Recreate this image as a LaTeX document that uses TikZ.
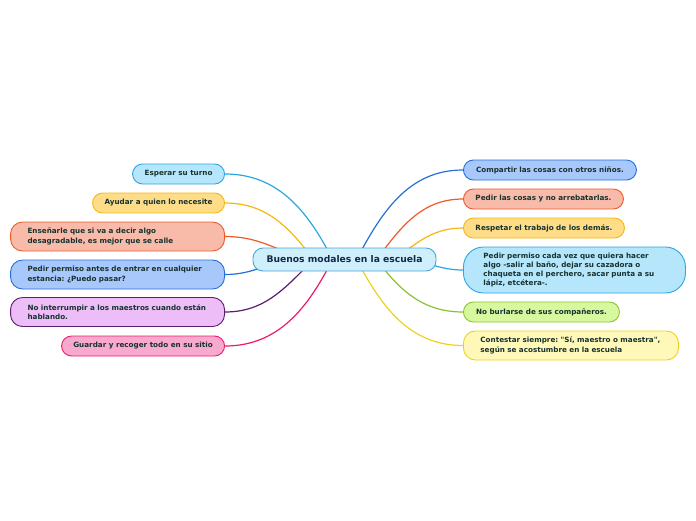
\documentclass[tikz,border=0pt]{standalone}
\usepackage{fontspec}
\setmainfont{DejaVu Sans}[Ligatures=TeXOff]
\usetikzlibrary{backgrounds,calc}
\frenchspacing
\definecolor{txt}{HTML}{17322E}
\definecolor{ctxt}{HTML}{14284A}
\definecolor{cyanF}{HTML}{B5E6FB}\definecolor{cyanD}{HTML}{2AA7E0}
\definecolor{yelF}{HTML}{FFDD88}\definecolor{yelD}{HTML}{F7B70F}
\definecolor{salF}{HTML}{F8BBA9}\definecolor{salD}{HTML}{F05A28}
\definecolor{bluF}{HTML}{A8C8FB}\definecolor{bluD}{HTML}{2470D8}
\definecolor{lavF}{HTML}{EDBDF8}\definecolor{lavD}{HTML}{5B1E6E}
\definecolor{pinF}{HTML}{F9A9CD}\definecolor{pinD}{HTML}{EC1A6C}
\definecolor{limF}{HTML}{D8F8A0}\definecolor{limD}{HTML}{8DC22F}
\definecolor{pylF}{HTML}{FFF8B8}\definecolor{pylD}{HTML}{EDD21C}
\definecolor{cenF}{HTML}{CFEFFC}\definecolor{cenD}{HTML}{4AA6DA}
\tikzset{
  leaf/.style={draw, line width=0.9pt, rounded corners=10pt, text=txt,
    font=\fontsize{7.2}{9.3}\selectfont\bfseries, minimum height=20pt,
    inner ysep=2pt, inner xsep=0pt, align=center},
  multi/.style={align=left, rounded corners=12pt, inner xsep=17pt, minimum height=29pt},
  link/.style={line width=1.2pt},
  cA/.style={fill=cyanF, draw=cyanD}, yA/.style={fill=yelF, draw=yelD},
  sA/.style={fill=salF, draw=salD}, bA/.style={fill=bluF, draw=bluD},
  lA/.style={fill=lavF, draw=lavD}, pA/.style={fill=pinF, draw=pinD},
  gA/.style={fill=limF, draw=limD}, wA/.style={fill=pylF, draw=pylD}
}
\begin{document}
\begin{tikzpicture}[x=1pt,y=1pt]
\useasboundingbox (0,0) rectangle (696,-520);
\node[draw=cenD, fill=cenF, line width=0.9pt, rounded corners=10pt, minimum width=183pt,
  minimum height=23pt, inner sep=0pt, text=ctxt, font=\fontsize{9.2}{11}\selectfont\bfseries]
  (c) at (344.5,-259.5) {Buenos modales en la escuela};
% attachment points under the central node
\coordinate (pL1) at ($(c.center)+(-12,0)$);
\coordinate (pL2) at ($(c.center)+(-31,0)$);
\coordinate (pL3) at ($(c.center)+(-40,0)$);
\coordinate (pL4) at ($(c.center)+(-57,0)$);
\coordinate (pR1) at ($(c.center)+(12,0)$);
\coordinate (pR2) at ($(c.center)+(32,0)$);
\coordinate (pR3) at ($(c.center)+(50,0)$);
\coordinate (pR4) at ($(c.center)+(60,0)$);
% left
\node[leaf, cA, minimum width=92pt, anchor=east] (l1) at (225,-174) {Esperar su turno};
\node[leaf, yA, minimum width=132pt, anchor=east] (l2) at (225,-203) {Ayudar a quien lo necesite};
\node[leaf, multi, sA, text width=180pt, anchor=east] (l3) at (225,-236.5) {Enseñarle que si va a decir algo\\desagradable, es mejor que se calle};
\node[leaf, multi, bA, text width=180pt, anchor=east] (l4) at (225,-274.5) {Pedir permiso antes de entrar en cualquier\\estancia: ¿Puedo pasar?};
\node[leaf, multi, lA, text width=180pt, anchor=east] (l5) at (225,-312) {No interrumpir a los maestros cuando están\\hablando.};
\node[leaf, pA, minimum width=163pt, anchor=east] (l6) at (225,-346) {Guardar y recoger todo en su sitio};
% right
\node[leaf, bA, minimum width=173pt, anchor=west] (r1) at (463,-170) {Compartir las cosas con otros niños.};
\node[leaf, sA, minimum width=160pt, anchor=west] (r2) at (463,-199) {Pedir las cosas y no arrebatarlas.};
\node[leaf, yA, minimum width=161pt, anchor=west] (r3) at (463,-228) {Respetar el trabajo de los demás.};
\node[leaf, multi, cA, rounded corners=20pt, inner xsep=20pt, minimum height=46pt, text width=182pt, anchor=west] (r4) at (463,-270) {Pedir permiso cada vez que quiera hacer\\algo -salir al baño, dejar su cazadora o\\chaqueta en el perchero, sacar punta a su\\lápiz, etcétera-.};
\node[leaf, gA, minimum width=156pt, anchor=west] (r5) at (463,-312) {No burlarse de sus compañeros.};
\node[leaf, multi, wA, text width=181pt, anchor=west] (r6) at (463,-345.5) {\mbox{Contestar siempre: "Sí, maestro o maestra",}\\según se acostumbre en la escuela};
\begin{scope}[on background layer]
\draw[link, cyanD] (l1.east) to[out=0, in=117] (pL1);
\draw[link, yelD] (l2.east) to[out=0, in=127] (pL2);
\draw[link, salD] (l3.east) to[out=0, in=160] (pL3);
\draw[link, bluD] (l4.east) to[out=0, in=194] (pL4);
\draw[link, lavD] (l5.east) to[out=0, in=225] (pL2);
\draw[link, pinD] (l6.east) to[out=0, in=243] (pL1);
\draw[link, bluD] (pR1) to[out=62, in=180] (r1.west);
\draw[link, salD] (pR2) to[out=53, in=180] (r2.west);
\draw[link, yelD] (pR3) to[out=37, in=180] (r3.west);
\draw[link, cyanD] (pR4) to[out=-5, in=180] (r4.west);
\draw[link, limD] (pR2) to[out=-53, in=180] (r5.west);
\draw[link, pylD] (pR1) to[out=-62, in=180] (r6.west);
\end{scope}
\end{tikzpicture}
\end{document}
